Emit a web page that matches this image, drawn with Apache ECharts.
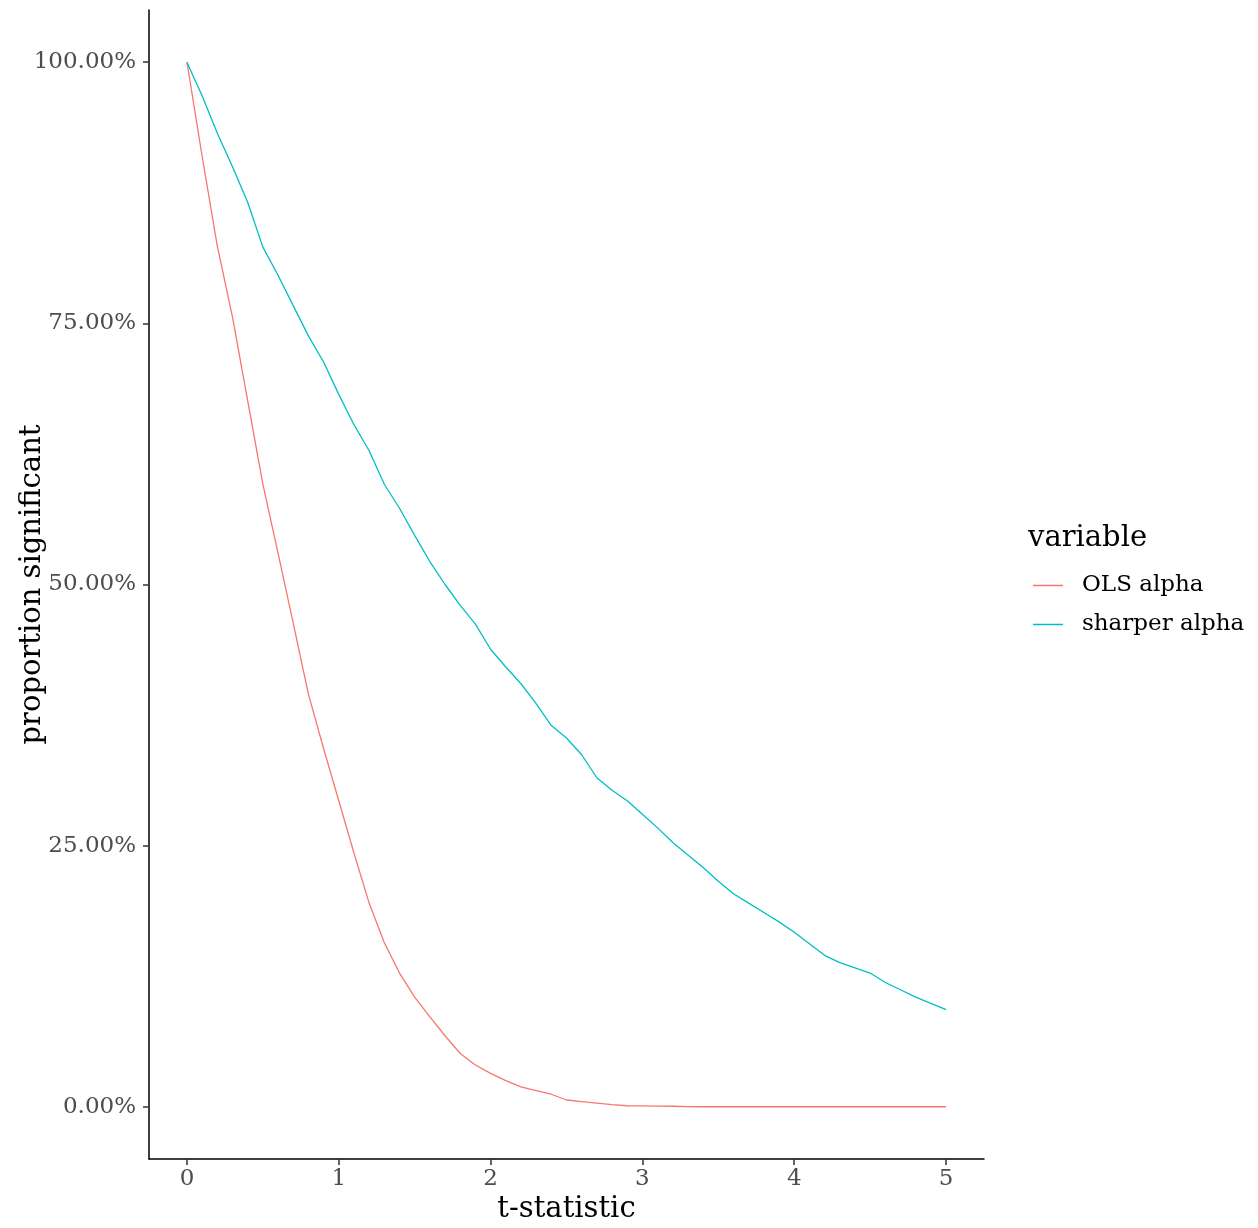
<!DOCTYPE html>
<html>
<head>
<meta charset="utf-8">
<script src="https://cdn.jsdelivr.net/npm/echarts@6/dist/echarts.min.js"></script>
<style>
  html, body { margin: 0; padding: 0; background: #ffffff; }
  #chart { width: 1258px; height: 1228px; }
</style>
</head>
<body>
<div id="chart"></div>
<script>
// t-statistic thresholds
const tStat = [
  0.0, 0.1, 0.2, 0.3, 0.4, 0.5, 0.6, 0.7, 0.8, 0.9,
  1.0, 1.1, 1.2, 1.3, 1.4, 1.5, 1.6, 1.7, 1.8, 1.9,
  2.0, 2.1, 2.2, 2.3, 2.4, 2.5, 2.6, 2.7, 2.8, 2.9,
  3.0, 3.1, 3.2, 3.3, 3.4, 3.5, 3.6, 3.7, 3.8, 3.9,
  4.0, 4.1, 4.2, 4.3, 4.4, 4.5, 4.6, 4.7, 4.8, 4.9,
  5.0
];

// share of funds (%) whose t-statistic exceeds the threshold
const olsAlpha = [
  100, 91.0, 82.4, 75.6, 67.6, 59.6, 53.0, 46.3, 39.5, 34.3,
  29.3, 24.3, 19.5, 15.7, 12.8, 10.5, 8.6, 6.8, 5.1, 4.0,
  3.2, 2.5, 1.9, 1.55, 1.2, 0.65, 0.5, 0.35, 0.2, 0.1,
  0.08, 0.06, 0.05, 0.02, 0, 0, 0, 0, 0, 0,
  0, 0, 0, 0, 0, 0, 0, 0, 0, 0,
  0
];

const sharperAlpha = [
  100, 96.8, 93.2, 90.0, 86.6, 82.3, 79.6, 76.7, 73.8, 71.3,
  68.2, 65.3, 62.8, 59.6, 57.3, 54.7, 52.2, 50.0, 48.0, 46.2,
  43.8, 42.1, 40.5, 38.6, 36.5, 35.3, 33.7, 31.5, 30.3, 29.3,
  28.0, 26.7, 25.3, 24.1, 22.9, 21.6, 20.4, 19.5, 18.6, 17.7,
  16.7, 15.6, 14.5, 13.8, 13.3, 12.8, 11.9, 11.2, 10.5, 9.9,
  9.3
];

const seriesNames = ['OLS alpha', 'sharper alpha'];
const seriesColors = ['#F8766D', '#00BFC4'];
const xTicks = [0, 1, 2, 3, 4, 5];
const yTicks = [0, 25, 50, 75, 100];

const FONT = 'DejaVu Serif';

const chart = echarts.init(document.getElementById('chart'), null, { renderer: 'canvas' });

const toPairs = (ys) => tStat.map((t, i) => [t, ys[i]]);

chart.setOption({
  backgroundColor: '#ffffff',
  animation: false,
  textStyle: { fontFamily: FONT },
  title: {
    text: 'variable',
    left: 1028,
    top: 524,
    padding: 0,
    textStyle: { fontFamily: FONT, fontSize: 29, fontWeight: 'normal', color: '#000000' }
  },
  legend: {
    data: seriesNames,
    orient: 'vertical',
    left: 1033,
    top: 574,
    padding: 0,
    itemWidth: 30,
    itemHeight: 1.5,
    itemGap: 16,
    icon: 'rect',
    selectedMode: false,
    textStyle: { fontFamily: FONT, fontSize: 23, color: '#000000', padding: [0, 0, 0, 14] }
  },
  grid: {
    left: 149,
    top: 10,
    right: 274,
    bottom: 69,
    containLabel: false,
    outerBoundsMode: 'none'
  },
  xAxis: {
    type: 'value',
    min: -0.25,
    max: 5.25,
    name: 't-statistic',
    nameLocation: 'middle',
    nameGap: 36,
    nameMoveOverlap: false,
    nameTextStyle: { fontFamily: FONT, fontSize: 29, color: '#000000' },
    splitLine: { show: false },
    axisLine: { show: true, onZero: false, lineStyle: { color: '#000000', width: 1.5 } },
    axisTick: { show: true, customValues: xTicks, length: 6, lineStyle: { color: '#333333', width: 1.5 } },
    axisLabel: {
      customValues: xTicks,
      margin: 9,
      fontFamily: FONT,
      fontSize: 23,
      color: '#4D4D4D'
    }
  },
  yAxis: {
    type: 'value',
    min: -5,
    max: 105,
    name: 'proportion significant',
    nameLocation: 'middle',
    nameGap: 102,
    nameMoveOverlap: false,
    nameTextStyle: { fontFamily: FONT, fontSize: 29, color: '#000000' },
    splitLine: { show: false },
    axisLine: { show: true, onZero: false, lineStyle: { color: '#000000', width: 1.5 } },
    axisTick: { show: true, customValues: yTicks, length: 6, lineStyle: { color: '#333333', width: 1.5 } },
    axisLabel: {
      customValues: yTicks,
      margin: 13,
      fontFamily: FONT,
      fontSize: 23,
      color: '#4D4D4D',
      formatter: (v) => v.toFixed(2) + '%'
    }
  },
  series: [
    {
      name: seriesNames[0],
      type: 'line',
      data: toPairs(olsAlpha),
      showSymbol: false,
      symbol: 'none',
      color: seriesColors[0],
      lineStyle: { color: seriesColors[0], width: 1.3 }
    },
    {
      name: seriesNames[1],
      type: 'line',
      data: toPairs(sharperAlpha),
      showSymbol: false,
      symbol: 'none',
      color: seriesColors[1],
      lineStyle: { color: seriesColors[1], width: 1.3 }
    }
  ]
});
</script>
</body>
</html>
